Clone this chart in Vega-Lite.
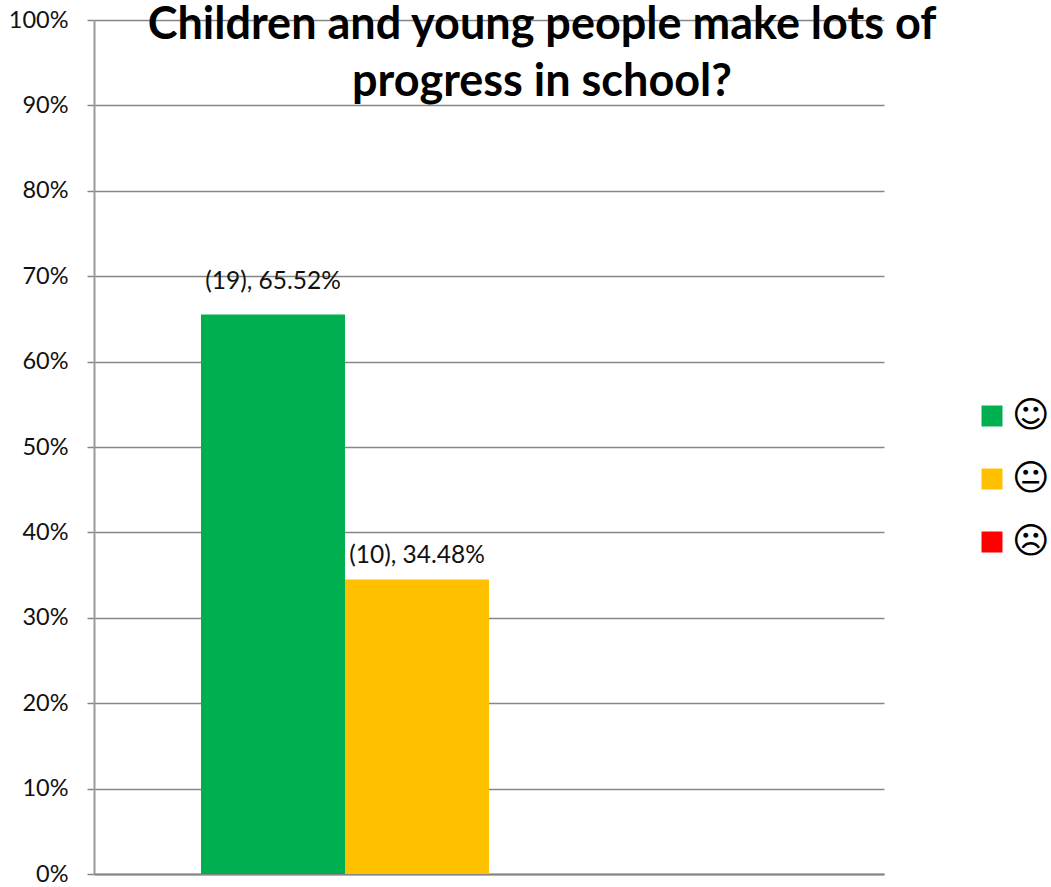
{"$schema":"https://vega.github.io/schema/vega-lite/v6.json","autosize":"none","width":790,"height":854,"padding":{"left":94,"top":20,"right":167,"bottom":13},"background":"white","view":{"stroke":null},"title":{"text":["Children and young people make lots of","progress in school?"],"font":"Lato","fontSize":45,"fontWeight":"bold","color":"#000000","anchor":"middle","dx":53,"offset":-97,"lineHeight":57},"data":{"values":[{"rating":"☺","share":0.6552,"label":"(19), 65.52%"},{"rating":"😐","share":0.3448,"label":"(10), 34.48%"},{"rating":"☹","share":0,"label":""}]},"encoding":{"x":{"field":"rating","type":"nominal","scale":{"domain":["☺","😐","☹"," "],"paddingInner":0,"paddingOuter":0.743},"axis":{"title":null,"labels":false,"ticks":false,"domainColor":"#868686","domainWidth":2,"grid":false}}},"layer":[{"mark":{"type":"bar"},"encoding":{"y":{"field":"share","type":"quantitative","scale":{"domain":[0,1],"nice":false},"axis":{"title":null,"format":".0%","tickCount":11,"values":[0,0.1,0.2,0.3,0.4,0.5,0.6,0.7,0.8,0.9,1],"grid":true,"gridColor":"#868686","gridWidth":1.5,"domainColor":"#9a9a9a","domainWidth":2,"tickColor":"#868686","tickWidth":1.5,"tickSize":7,"labelFont":"Lato","labelFontSize":23.5,"labelColor":"#111111","labelPadding":19}},"color":{"field":"rating","type":"nominal","scale":{"domain":["☺","😐","☹"],"range":["#00B050","#FFC000","#FF0000"]},"legend":{"title":null,"orient":"none","legendX":880,"legendY":378,"symbolType":"square","symbolSize":441,"symbolOpacity":1,"symbolStrokeWidth":0,"labelFont":"DejaVu Sans","labelFontSize":36,"labelColor":"#000000","labelOffset":2,"rowPadding":27,"offset":0}}}},{"transform":[{"filter":"datum.share > 0.5"}],"mark":{"type":"text","font":"Lato","fontSize":24.5,"color":"#111111","baseline":"bottom","dy":-20},"encoding":{"y":{"field":"share","type":"quantitative"},"text":{"field":"label"}}},{"transform":[{"filter":"datum.share > 0 && datum.share < 0.5"}],"mark":{"type":"text","font":"Lato","fontSize":24.5,"color":"#111111","baseline":"bottom","dy":-12},"encoding":{"y":{"field":"share","type":"quantitative"},"text":{"field":"label"}}}]}
